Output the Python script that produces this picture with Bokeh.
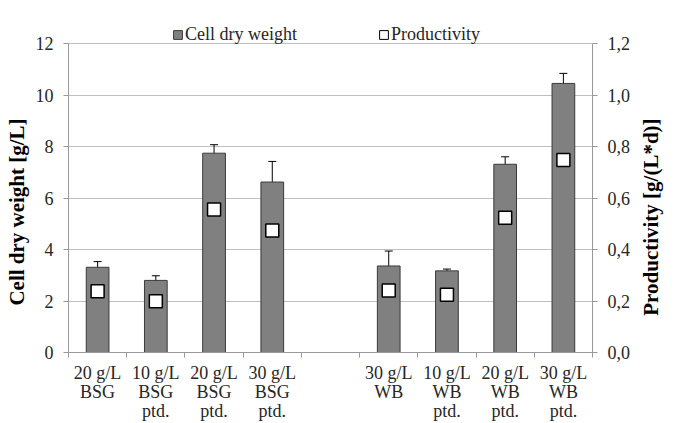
import math
from bokeh.plotting import figure
from bokeh.models import (ColumnDataSource, Range1d, LinearAxis, FixedTicker,
                          CustomJSTickFormatter, Whisker, TeeHead, Legend, LegendItem)
from bokeh.embed import file_html
from bokeh.resources import INLINE

# ---------------- data ----------------
labels = ["20 g/L\nBSG", "10 g/L\nBSG\nptd.", "20 g/L\nBSG\nptd.", "30 g/L\nBSG\nptd.", "",
          "30 g/L\nWB", "10 g/L\nWB\nptd.", "20 g/L\nWB\nptd.", "30 g/L\nWB\nptd."]
slots = [0, 1, 2, 3, 5, 6, 7, 8]
cdw = [3.31, 2.80, 7.74, 6.62, 3.36, 3.17, 7.31, 10.45]
cdw_err = [0.22, 0.18, 0.33, 0.80, 0.58, 0.07, 0.29, 0.39]
productivity = [0.238, 0.199, 0.555, 0.474, 0.241, 0.224, 0.523, 0.748]
left_ticks = [0, 2, 4, 6, 8, 10, 12]
right_ticks = [0.0, 0.2, 0.4, 0.6, 0.8, 1.0, 1.2]

FONT = "Liberation Serif"
GRID = "#bfbfbf"
TXT = "#262626"
NB = "\u00a0"

# head-room above the 12 gridline keeps the legend inside the frame
HEAD = 344.0 / 309.0
YMAX = left_ticks[-1]
PMAX = right_ticks[-1]

xc = [s + 0.5 for s in slots]
src = ColumnDataSource(dict(
    x=xc, cdw=cdw, prod=productivity,
    up=[v + e for v, e in zip(cdw, cdw_err)],
    lo=[v - e for v, e in zip(cdw, cdw_err)],
))

p = figure(width=678, height=423, output_backend="svg", toolbar_location=None,
           x_range=Range1d(0, len(labels)), y_range=Range1d(0, YMAX * HEAD),
           min_border_left=68, min_border_right=78, min_border_top=8, min_border_bottom=71)
p.extra_y_ranges = {"prod": Range1d(0, PMAX * HEAD)}
p.outline_line_color = None
p.background_fill_color = "white"
p.border_fill_color = "white"

bars = p.vbar(x="x", top="cdw", width=0.39, bottom=0, source=src,
              fill_color="#808080", line_color="#3a3a3a", line_width=1)

wh = Whisker(base="x", upper="up", lower="lo", source=src, line_color="black", line_width=1,
             upper_head=TeeHead(size=8, line_color="black", line_width=1),
             lower_head=TeeHead(size=8, line_color="black", line_width=1))
p.add_layout(wh)

pts = p.scatter(x="x", y="prod", source=src, y_range_name="prod", marker="square",
                size=13, fill_color="white", line_color="black", line_width=1.5)

# grid
p.xgrid.visible = False
p.ygrid.grid_line_color = GRID
p.ygrid.grid_line_width = 1
p.ygrid.ticker = FixedTicker(ticks=left_ticks)

# x axis
xa = p.xaxis[0]
xa.ticker = FixedTicker(ticks=[i + 0.5 for i in range(len(labels))],
                        minor_ticks=list(range(len(labels) + 1)))
xa.formatter = CustomJSTickFormatter(args=dict(labels=labels),
                                     code="return labels[Math.floor(tick)];")
xa.major_tick_out = 0
xa.major_tick_in = 0
xa.minor_tick_out = 5
xa.minor_tick_in = 0
xa.minor_tick_line_color = "#999999"
xa.axis_line_color = "#999999"
xa.major_label_text_font = FONT
xa.major_label_text_font_size = "18px"
xa.major_label_text_color = TXT
xa.major_label_text_line_height = 0.95
xa.major_label_standoff = 5

# left axis
ya = p.yaxis[0]
ya.ticker = FixedTicker(ticks=left_ticks)
ya.bounds = (0, YMAX)
ya.minor_tick_line_color = None
ya.major_tick_out = 5
ya.major_tick_in = 0
ya.major_tick_line_color = "#999999"
ya.axis_line_color = "#999999"
ya.major_label_text_font = FONT
ya.major_label_text_font_size = "18px"
ya.major_label_text_color = TXT
ya.major_label_standoff = 10
ya.axis_label = "Cell dry weight [g/L]" + NB * 12
ya.axis_label_text_font = FONT
ya.axis_label_text_font_style = "bold"
ya.axis_label_text_font_size = "21px"
ya.axis_label_text_color = "black"
ya.axis_label_standoff = 4

# right axis
ra = LinearAxis(y_range_name="prod", ticker=FixedTicker(ticks=right_ticks),
                formatter=CustomJSTickFormatter(code="return tick.toFixed(1).replace('.', ',');"))
ra.bounds = (0, PMAX)
ra.minor_tick_line_color = None
ra.major_tick_out = 5
ra.major_tick_in = 0
ra.major_tick_line_color = "#999999"
ra.axis_line_color = "#999999"
ra.major_label_text_font = FONT
ra.major_label_text_font_size = "18px"
ra.major_label_text_color = TXT
ra.major_label_standoff = 10
ra.axis_label = NB * 7 + "Productivity [g/(L*d)]"
ra.axis_label_text_font = FONT
ra.axis_label_text_font_style = "bold"
ra.axis_label_text_font_size = "21px"
ra.axis_label_text_color = "black"
ra.axis_label_standoff = 18
ra.axis_label_orientation = math.pi / 2
ra.axis_label_align = "start"
p.add_layout(ra, "right")

# legend (the productivity proxy holds no drawable point)
proxy = p.vbar(x=[math.nan], top=[math.nan], width=0.4, fill_color="white", line_color="black")
leg = Legend(items=[LegendItem(label="Cell dry weight", renderers=[bars]),
                    LegendItem(label="Productivity", renderers=[proxy])],
             orientation="horizontal", location=(104, 307),
             glyph_width=11, glyph_height=11, label_standoff=2, spacing=81,
             padding=0, margin=0, border_line_color=None, background_fill_alpha=0,
             label_text_font=FONT, label_text_font_size="18px", label_text_color=TXT)
p.add_layout(leg, "center")

open("out.html", "w").write(file_html(p, INLINE))
